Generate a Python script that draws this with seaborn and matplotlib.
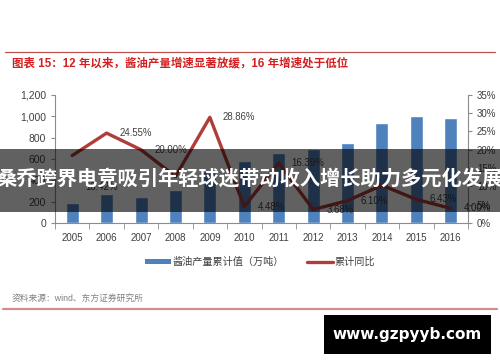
import numpy as np
import pandas as pd
import matplotlib
matplotlib.use('Agg')
import matplotlib.pyplot as plt
import seaborn as sns
from matplotlib.patches import Rectangle, Patch
from matplotlib.lines import Line2D
from matplotlib.ticker import FuncFormatter, FixedLocator

# data
years = ['2005', '2006', '2007', '2008', '2009', '2010', '2011', '2012', '2013', '2014', '2015', '2016']
output = [190, 270, 240, 310, 490, 585, 655, 697, 750, 935, 1006, 985]
growth = [18.42, 24.55, 20.00, 12.7, 28.86, 4.48, 16.39, 3.68, 6.10, 10.3, 6.43, 4.00]
growth_labels = ['18.42%', '24.55%', '20.00%', '', '28.86%', '4.48%', '16.39%', '3.68%', '6.10%', '', '6.43%', '4.00%']

title = '图表 15：12 年以来，酱油产量增速显著放缓，16 年增速处于低位'
bar_name = '酱油产量累计值（万吨）'
line_name = '累计同比'
source = '资料来源：wind、东方证券研究所'
banner = '桑乔跨界电竞吸引年轻球迷带动收入增长助力多元化发展'
watermark = 'www.gzpyyb.com'

sns.set_style('white')
plt.rcParams['font.family'] = ['Liberation Sans', 'Noto Sans CJK SC', 'DejaVu Sans']

blue = '#4f81bd'
red = '#b03c3c'
grey = '#8c8c8c'
txt = '#404040'

df = pd.DataFrame({'year': years, 'output': output, 'growth': np.array(growth) / 100})

fig = plt.figure(figsize=(5, 3.62), dpi=100)
ax = fig.add_axes([0.11, 0.384, 0.826, 0.354])

sns.barplot(data=df, x='year', y='output', color=blue, saturation=1, width=0.38, ax=ax)
ax.set_xlim(-0.5, len(years) - 0.5)
ax.set_ylim(0, 1200)
ax.set_yticks(range(0, 1201, 200))
ax.yaxis.set_major_formatter(FuncFormatter(lambda v, p: f'{v:,.0f}'))
ax.set_xlabel('')
ax.set_ylabel('')
ax.tick_params(axis='y', labelsize=7.5, labelcolor=txt, length=3, color=grey, left=True)
ax.tick_params(axis='x', which='major', labelsize=7, labelcolor=txt, length=0, pad=7)
ax.xaxis.set_minor_locator(FixedLocator(np.arange(-0.5, len(years), 1)))
ax.tick_params(axis='x', which='minor', length=4, color=grey, bottom=True)
for s in ['top', 'right']:
    ax.spines[s].set_visible(False)
for s in ['left', 'bottom']:
    ax.spines[s].set_color(grey)
    ax.spines[s].set_linewidth(0.8)

ax2 = ax.twinx()
x = np.arange(len(years))
sns.lineplot(x=x, y=df['growth'], ax=ax2, color=red, linewidth=2.4)
ax2.set_xlim(-0.5, len(years) - 0.5)
ax2.set_ylim(0, 0.35)
ax2.set_yticks(np.arange(0, 0.351, 0.05))
ax2.yaxis.set_major_formatter(FuncFormatter(lambda v, p: f'{v * 100:.0f}%'))
ax2.set_ylabel('')
ax2.tick_params(axis='y', labelsize=7, labelcolor=txt, length=3, color=grey, right=True)
for s in ['top', 'left', 'bottom']:
    ax2.spines[s].set_visible(False)
ax2.spines['right'].set_color(grey)
ax2.spines['right'].set_linewidth(0.8)

for i, (g, lab) in enumerate(zip(df['growth'], growth_labels)):
    if not lab:
        continue
    dy = -0.085 if i == 0 else 0
    ax2.text(i + 0.38, g + dy, lab, ha='left', va='center', fontsize=6.9, color=txt)

# legend
handles = [Patch(facecolor=blue, edgecolor='none'), Line2D([], [], color=red, linewidth=2.4)]
fig.legend(handles, [bar_name, line_name], loc='center', bbox_to_anchor=(0.52, 1 - 262 / 362),
           ncol=2, frameon=False, fontsize=7.3, handlelength=2.6, handleheight=0.45,
           columnspacing=2.2, handletextpad=0.2, labelcolor=txt)

# title and frame lines
fig.add_artist(Line2D([5 / 500, 495 / 500], [1 - 52 / 362] * 2, color='#c0504d', linewidth=0.9))
fig.text(12 / 500, 1 - 63 / 362, title, color='#d42020', fontsize=8.3, fontweight='bold', va='center')
fig.text(12 / 500, 1 - 298 / 362, source, color='#808080', fontsize=6.3, va='center')
fig.add_artist(Line2D([3 / 500, 497 / 500], [1 - 309 / 362] * 2, color='#d08c8e', linewidth=1.6))

# overlay banner
fig.add_artist(Rectangle((0, 1 - 212 / 362), 1, 63 / 362, transform=fig.transFigure,
                         facecolor='black', alpha=0.62, edgecolor='none', zorder=5))
fig.text(0.5, 1 - 178 / 362, banner, color='white', fontsize=14.6, fontweight='bold',
         ha='center', va='center', zorder=6, family=['Noto Sans CJK SC', 'DejaVu Sans'])

# watermark box
fig.add_artist(Rectangle((324 / 500, 1 - 354 / 362), 167 / 500, 39 / 362, transform=fig.transFigure,
                         facecolor='black', edgecolor='none', zorder=5))
fig.text(407 / 500, 1 - 334 / 362, watermark, color='white', fontsize=11, fontweight='bold',
         ha='center', va='center', zorder=6, family=['DejaVu Sans'])

fig.savefig('out.png', dpi=100)
